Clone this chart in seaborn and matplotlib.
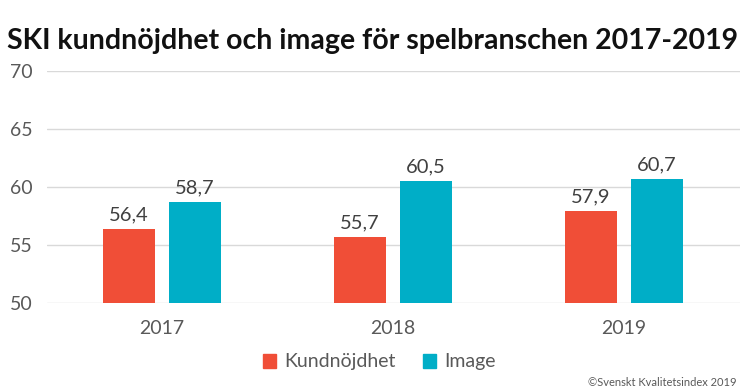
import pandas as pd
import seaborn as sns
import matplotlib.pyplot as plt

# values
years = ["2017", "2018", "2019"]
kundnojdhet = [56.4, 55.7, 57.9]
image = [58.7, 60.5, 60.7]
series = ["Kundnöjdhet", "Image"]
colors = ["#F04E37", "#00AEC7"]

df = pd.DataFrame({
    "year": years * 2,
    "serie": [series[0]] * 3 + [series[1]] * 3,
    "value": kundnojdhet + image,
})

sns.set_theme(style="white")
plt.rcParams["font.family"] = ["Lato", "DejaVu Sans"]

fig = plt.figure(figsize=(7.46, 3.92), dpi=100)
ax = fig.add_axes([46.5 / 746, 1 - 303 / 392, 693 / 746, 232 / 392])

sns.barplot(data=df, x="year", y="value", hue="serie", palette=colors,
            saturation=1, width=0.572, gap=0.213, linewidth=0,
            ax=ax, legend=False)

ax.set_ylim(50, 70)
ax.set_yticks([50, 55, 60, 65, 70])
ax.yaxis.grid(True, color="#D9D9D9", linewidth=1)
ax.set_axisbelow(True)
for s in ax.spines.values():
    s.set_visible(False)
ax.set_xlabel("")
ax.set_ylabel("")
ax.tick_params(axis="y", colors="#595959", labelsize=14, length=0, pad=10)
ax.tick_params(axis="x", colors="#595959", labelsize=14, length=0, pad=12)

for cont in ax.containers:
    ax.bar_label(cont, labels=[f"{v:.1f}".replace(".", ",") for v in cont.datavalues],
                 padding=4, fontsize=14.5, color="#404040")

fig.text(0.5, 0.895, "SKI kundnöjdhet och image för spelbranschen 2017-2019",
         ha="center", va="center", fontsize=20.5, fontweight="bold", color="#111111")

handles = [plt.Rectangle((0, 0), 1, 1, color=c) for c in colors]
fig.legend(handles, series, loc="center", bbox_to_anchor=(0.508, 1 - 362 / 392),
           ncol=2, frameon=False, fontsize=14, labelcolor="#595959",
           handlelength=0.7, handleheight=0.7, handletextpad=0.4, columnspacing=1.4)

fig.text(0.988, 1 - 383 / 392, "©Svenskt Kvalitetsindex 2019", ha="right", va="center",
         fontsize=8, color="#595959")

fig.savefig("out.png", dpi=100)
